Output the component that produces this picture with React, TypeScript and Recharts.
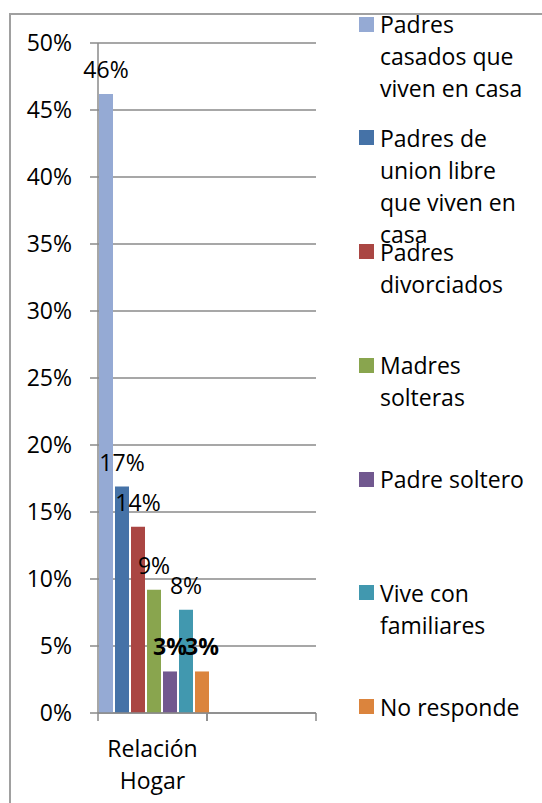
import { BarChart, Bar, XAxis, YAxis, CartesianGrid, Legend, LabelList } from 'recharts';

// categories on the x axis (the second one is empty in the original sheet)
const categories = ['Relación Hogar', ''];

const seriesNames = [
  'Padres\ncasados que\nviven en casa',
  'Padres de\nunion libre\nque viven en\ncasa',
  'Padres\ndivorciados',
  'Madres\nsolteras',
  'Padre soltero',
  'Vive con\nfamiliares',
  'No responde',
];

// % per series for "Relación Hogar"
const relacionHogar = [46.2, 16.9, 13.9, 9.2, 3.1, 7.7, 3.1];

const colors = ['#95AAD4', '#4572A7', '#AA4643', '#89A54E', '#71588F', '#4198AF', '#DB843D'];

// the two small ones are bold in the original
const boldSeries = ['Padre soltero', 'No responde'];

const yTicks = [0, 5, 10, 15, 20, 25, 30, 35, 40, 45, 50];

const data = categories.map((name, i) => {
  const row: Record<string, string | number> = { name };
  if (i === 0) {
    seriesNames.forEach((s, j) => {
      row['s' + j] = relacionHogar[j];
    });
  }
  return row;
});

const W = 542;
const H = 803;
const PLOT_LEFT = 98;
const PLOT_RIGHT = 316;
const LEGEND_W = 186;
const FONT = '"Open Sans", sans-serif';
const GRID = '#8a8a8a';

const HALF_BAND = (PLOT_RIGHT - PLOT_LEFT) / categories.length / 2;

const CategoryTick = (props: any) => {
  const { x, y, payload } = props;
  const words = String(payload.value).split(' ').filter(Boolean);
  return (
    <g>
      <line x1={x - HALF_BAND} y1={y} x2={x - HALF_BAND} y2={y + 8} stroke={GRID} strokeWidth={1.5} />
      <line x1={x + HALF_BAND} y1={y} x2={x + HALF_BAND} y2={y + 8} stroke={GRID} strokeWidth={1.5} />
      {words.map((w, i) => (
        <text
          key={i}
          x={x}
          y={y + 35 + i * 32}
          textAnchor="middle"
          dominantBaseline="central"
          fontSize={23}
          fontFamily={FONT}
          fill="#000"
        >
          {w}
        </text>
      ))}
    </g>
  );
};

const makeLabel = (name: string) => (props: any) => {
  const { x, y, width, value } = props;
  if (value == null) return null;
  return (
    <text
      x={x + width / 2}
      y={y - 25}
      textAnchor="middle"
      dominantBaseline="central"
      fontSize={23}
      fontFamily={FONT}
      fontWeight={boldSeries.includes(name) ? 'bold' : 'normal'}
      fill="#000"
    >
      {Math.round(value)}%
    </text>
  );
};

const renderLegend = (props: any) => {
  // keep the series order (recharts sorts by name otherwise)
  const payload = [...(props.payload || [])].sort(
    (a: any, b: any) => seriesNames.indexOf(a.value) - seriesNames.indexOf(b.value)
  );
  return (
    <div style={{ position: 'relative', width: LEGEND_W, height: H, fontFamily: FONT, fontSize: 23 }}>
      {payload.map((entry: any, i: number) => {
        const cy = 24 + i * 113.75;
        return (
          <div key={i}>
            <div
              style={{
                position: 'absolute',
                left: 3,
                top: cy - 7.5,
                width: 15,
                height: 15,
                background: entry.color,
              }}
            />
            <div
              style={{
                position: 'absolute',
                left: 24,
                top: cy - 16,
                lineHeight: '32px',
                whiteSpace: 'pre-line',
                color: '#000',
              }}
            >
              {entry.value}
            </div>
          </div>
        );
      })}
    </div>
  );
};

export default function App() {
  return (
    <div style={{ position: 'absolute', left: 0, top: 0, width: W, height: H, overflow: 'hidden', background: '#fff' }}>
      <div
        style={{
          position: 'absolute',
          left: 9,
          top: 13,
          width: 700,
          height: 900,
          borderLeft: '2px solid #a0a0a0',
          borderTop: '2px solid #a0a0a0',
        }}
      />
      <BarChart
        width={W}
        height={H}
        data={data}
        margin={{ top: 43, right: 226 - LEGEND_W, left: 0, bottom: 0 }}
        barCategoryGap={1}
        barGap={2}
        style={{ position: 'absolute', left: 0, top: 0, fontFamily: FONT }}
      >
        <CartesianGrid vertical={false} stroke={GRID} strokeWidth={1.5} />
        <XAxis
          dataKey="name"
          height={90}
          tickLine={false}
          tickSize={0}
          tickMargin={0}
          axisLine={{ stroke: GRID, strokeWidth: 1.5 }}
          tick={<CategoryTick />}
          interval={0}
        />
        <YAxis
          width={PLOT_LEFT}
          domain={[0, 50]}
          ticks={yTicks}
          interval={0}
          tickFormatter={(v) => `${v}%`}
          tickSize={8}
          tickMargin={18}
          axisLine={{ stroke: GRID, strokeWidth: 1.5 }}
          tickLine={{ stroke: GRID, strokeWidth: 1.5 }}
          tick={{ fill: '#000', fontSize: 23, fontFamily: FONT }}
        />
        <Legend
          layout="vertical"
          align="right"
          verticalAlign="top"
          content={renderLegend}
          wrapperStyle={{ top: 0, right: 0, width: LEGEND_W, height: H }}
        />
        {seriesNames.map((s, j) => (
          <Bar key={s} dataKey={'s' + j} name={s} fill={colors[j]} isAnimationActive={false}>
            <LabelList dataKey={'s' + j} content={makeLabel(s)} />
          </Bar>
        ))}
      </BarChart>
    </div>
  );
}
